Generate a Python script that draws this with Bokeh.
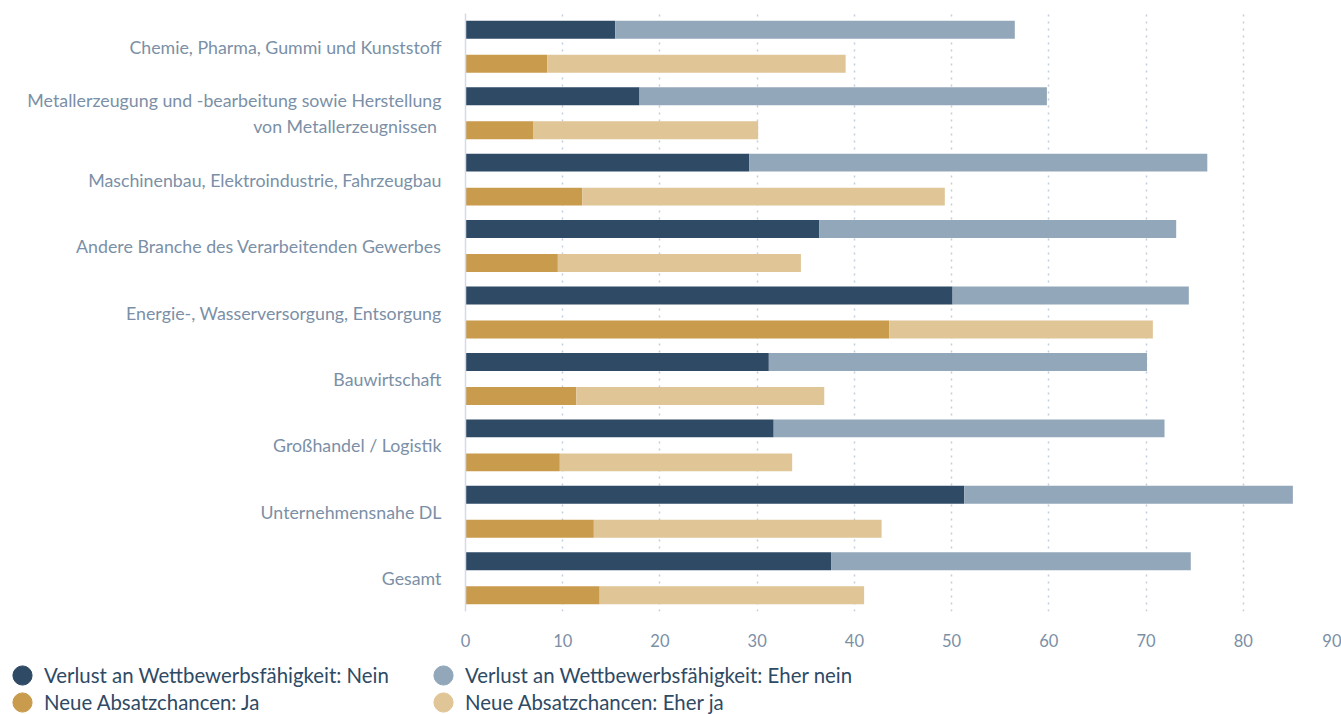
from bokeh.plotting import figure
from bokeh.layouts import column
from bokeh.models import FactorRange, Range1d, Legend, LegendItem, FixedTicker, ColumnDataSource
from bokeh.transform import dodge
from bokeh.embed import file_html
from bokeh.resources import INLINE

categories = [
    "Chemie, Pharma, Gummi und Kunststoff",
    "Metallerzeugung und -bearbeitung sowie Herstellung\nvon Metallerzeugnissen ",
    "Maschinenbau, Elektroindustrie, Fahrzeugbau",
    "Andere Branche des Verarbeitenden Gewerbes",
    "Energie-, Wasserversorgung, Entsorgung",
    "Bauwirtschaft",
    "Großhandel / Logistik",
    "Unternehmensnahe DL",
    "Gesamt",
]
verlust_nein = [15.4, 17.9, 29.2, 36.4, 50.1, 31.2, 31.7, 51.3, 37.6]
verlust_eher_nein = [41.1, 41.9, 47.1, 36.7, 24.3, 38.9, 40.2, 33.8, 37.0]
absatz_ja = [8.4, 7.0, 12.0, 9.5, 43.6, 11.4, 9.7, 13.2, 13.8]
absatz_eher_ja = [30.7, 23.1, 37.3, 25.0, 27.1, 25.5, 23.9, 29.6, 27.2]
x_ticks = [0, 10, 20, 30, 40, 50, 60, 70, 80, 90]

series_labels = [
    "Verlust an Wettbewerbsfähigkeit: Nein",
    "Verlust an Wettbewerbsfähigkeit: Eher nein",
    "Neue Absatzchancen: Ja",
    "Neue Absatzchancen: Eher ja",
]
colors = ["#2e4a65", "#92a7ba", "#c99b4d", "#e0c597"]

FONT = "Lato"
LABEL_COLOR = "#7b8fa6"
W = 1341

src = ColumnDataSource(dict(
    cat=categories,
    nein=verlust_nein,
    ehernein=verlust_eher_nein,
    ja=absatz_ja,
    eherja=absatz_eher_ja,
))

p = figure(
    width=W, height=652,
    y_range=FactorRange(*reversed(categories), range_padding=0),
    x_range=Range1d(0, 90),
    output_backend="svg", toolbar_location=None,
    min_border_left=465, min_border_right=1, min_border_top=13, min_border_bottom=41,
)
p.frame_align = False
p.outline_line_color = None

off = 0.256
h = 0.27
p.hbar_stack(["nein", "ehernein"], y=dodge("cat", off, range=p.y_range), height=h,
             color=colors[:2], source=src, line_width=0)
p.hbar_stack(["ja", "eherja"], y=dodge("cat", -off, range=p.y_range), height=h,
             color=colors[2:], source=src, line_width=0)

p.xaxis.ticker = FixedTicker(ticks=x_ticks)
p.xaxis.axis_line_color = None
p.xaxis.major_tick_line_color = None
p.xaxis.minor_tick_line_color = None
p.xaxis.major_label_text_font = FONT
p.xaxis.major_label_text_font_size = "16.5px"
p.xaxis.major_label_text_color = LABEL_COLOR
p.xaxis.major_label_standoff = 16

p.yaxis.axis_line_color = "#d3dce6"
p.yaxis.axis_line_width = 1.5
p.yaxis.major_tick_line_color = None
p.yaxis.minor_tick_line_color = None
p.yaxis.major_label_text_font = FONT
p.yaxis.major_label_text_font_size = "17.8px"
p.yaxis.major_label_text_color = LABEL_COLOR
p.yaxis.major_label_standoff = 18
p.yaxis.major_label_text_align = "right"

p.ygrid.grid_line_color = None
p.xgrid.grid_line_color = "#c2cedb"
p.xgrid.grid_line_dash = "2 5"
p.xgrid.grid_line_width = 1.5
p.xgrid.ticker = FixedTicker(ticks=x_ticks[1:])

# legend figure
lg = figure(
    width=W, height=62, x_range=Range1d(0, 1), y_range=Range1d(0, 1),
    output_backend="svg", toolbar_location=None,
    x_axis_location=None, y_axis_location=None,
    min_border_left=0, min_border_right=0, min_border_top=0, min_border_bottom=0,
)
lg.frame_align = False
lg.outline_line_color = None
lg.grid.grid_line_color = None
dummies = []
for c in colors:
    d = lg.ellipse(x=[-10], y=[-10], width=10, height=10,
                   width_units="screen", height_units="screen",
                   fill_color=c, line_color=c)
    dummies.append(d)

order = [0, 2, 1, 3]
legend = Legend(
    items=[LegendItem(label=series_labels[i], renderers=[dummies[i]]) for i in order],
    ncols=2,
    location=(10, 0),
    label_text_font=FONT,
    label_text_font_size="20.4px",
    label_text_color="#2e4a65",
    glyph_width=24, glyph_height=24,
    label_standoff=10,
    label_width=384,
    label_height=24,
    spacing=3,
    padding=0, margin=0,
    border_line_color=None,
    background_fill_alpha=0,
)
lg.add_layout(legend, "center")

layout = column(p, lg, spacing=0)
open("out.html", "w").write(file_html(layout, INLINE))
